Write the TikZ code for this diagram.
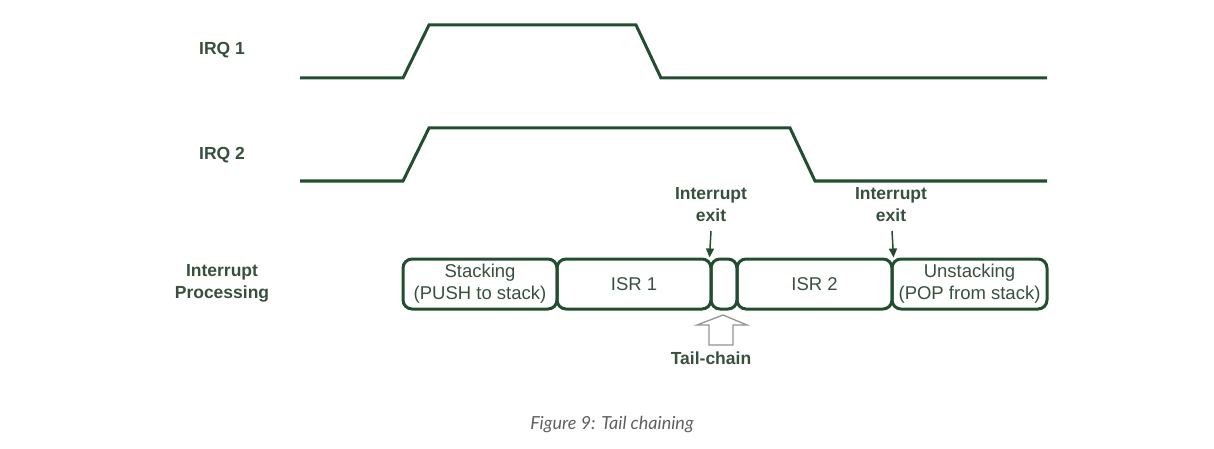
\documentclass[tikz,border=0pt]{standalone}
\usepackage{fontspec}
\setmainfont{Liberation Sans}
\newfontfamily\capfont{Lato}
\usetikzlibrary{arrows.meta}
\definecolor{dg}{RGB}{34,78,48}
\definecolor{tg}{RGB}{55,80,62}
\definecolor{capg}{RGB}{95,95,95}
\tikzset{
  wave/.style={draw=dg, line width=3pt, line join=miter},
  pbox/.style={draw=dg, line width=3pt, rounded corners=9pt, minimum height=50pt, inner sep=0pt, align=center, font=\fontsize{18.5}{22}\selectfont, text=tg},
  lbl/.style={font=\bfseries\fontsize{17.5}{22}\selectfont, text=tg, align=center},
  downarr/.style={draw=dg, line width=1.5pt, -{Triangle[width=8pt,length=9pt]}},
}
\begin{document}
\begin{tikzpicture}[x=1pt,y=-1pt]
\useasboundingbox (0,0) rectangle (1214,449);
% waveforms
\draw[wave] (300,78) -- (403,78) -- (429,25) -- (636,25) -- (661,78) -- (1047,78);
\draw[wave] (300,181) -- (403,181) -- (429,128) -- (790,128) -- (815,181) -- (1047,181);
% labels
\node[lbl] (irq1) at (222,50) {IRQ 1};
\node[lbl] (irq2) at (222,155) {IRQ 2};
\node[lbl] (ip) at (222,283) {Interrupt\\Processing};
% boxes
\node[pbox, minimum width=154pt] (stk) at (480,284) {Stacking\\(PUSH to stack)};
\node[pbox, minimum width=154pt] (isr1) at (634,284) {ISR 1};
\node[pbox, minimum width=26pt] (gap) at (724,284) {};
\node[pbox, minimum width=155pt] (isr2) at (814.5,284) {ISR 2};
\node[pbox, minimum width=155pt] (unstk) at (969.5,284) {Unstacking\\(POP from stack)};
% interrupt exits
\node[lbl] (ie1) at (711,205) {Interrupt\\exit};
\node[lbl] (ie2) at (891,205) {Interrupt\\exit};
\coordinate (a1) at (711,231);
\coordinate (a2) at (892,231);
\draw[downarr] (a1) -- (gap.north west);
\draw[downarr] (a2) -- (isr2.north east);
% tail-chain hollow arrow
\draw[draw=gray!85, line width=1.3pt, line join=miter, fill=white]
  (723,315) -- (747,325) -- (733,325) -- (733,345) -- (709,345) -- (709,325) -- (697,325) -- cycle;
\node[lbl] (tc) at (711,358) {Tail-chain};
% caption
\node[font=\capfont\itshape\fontsize{18}{22}\selectfont, text=capg] (cap) at (612,425) {Figure 9: Tail chaining};
\end{tikzpicture}
\end{document}
